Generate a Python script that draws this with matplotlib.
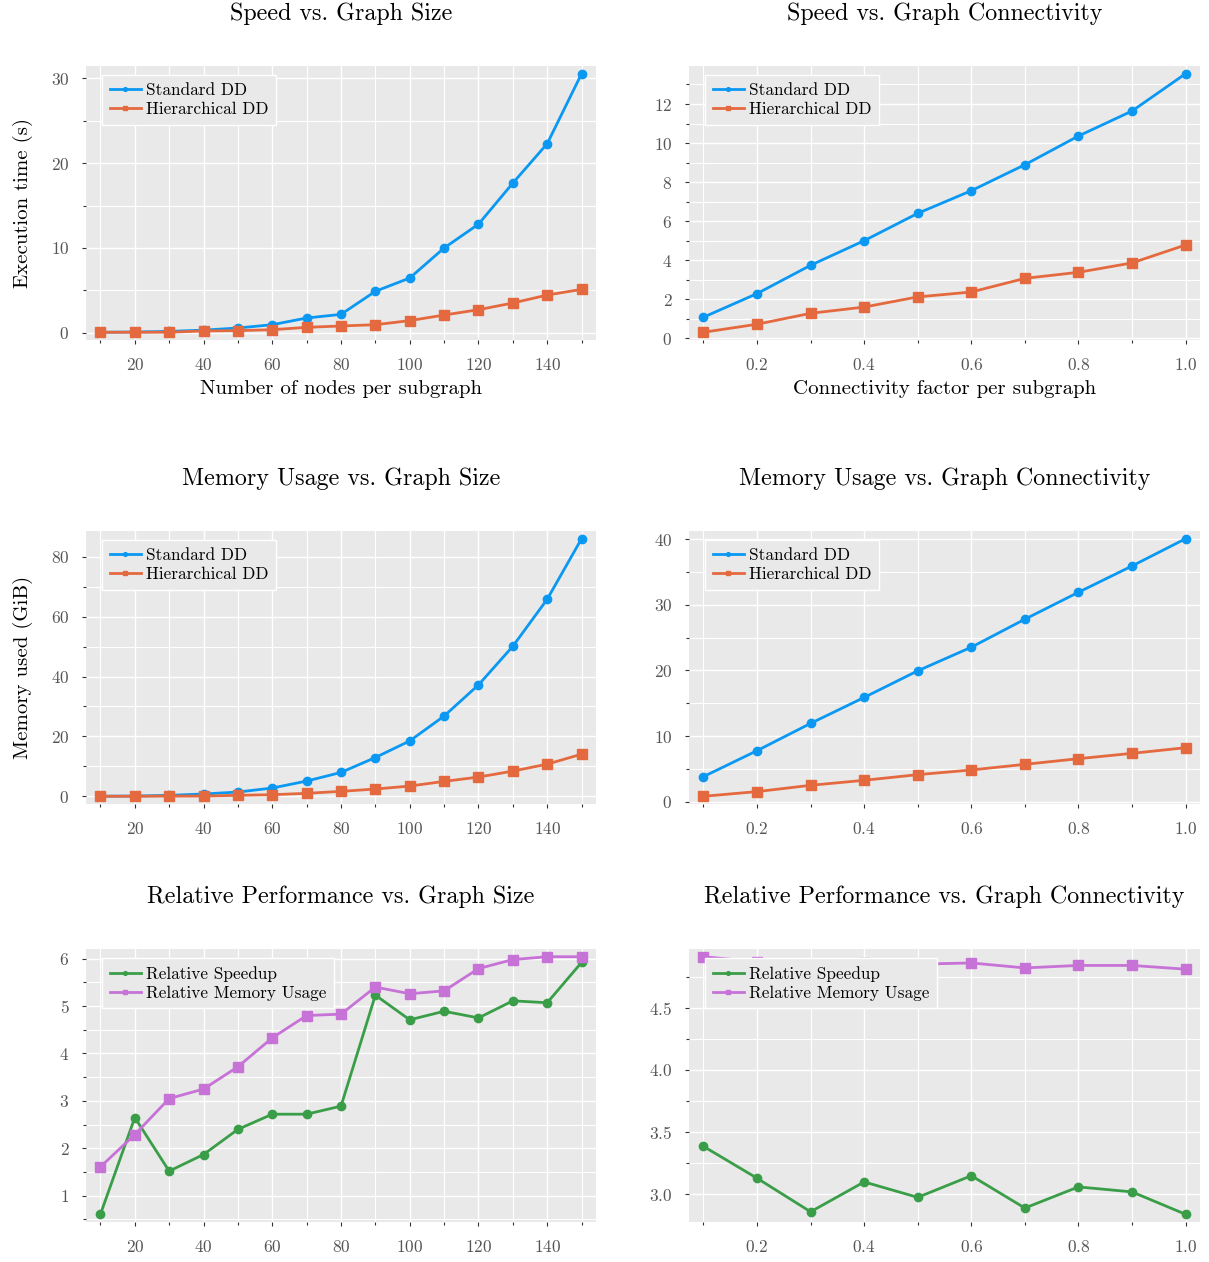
import numpy as np
import matplotlib
matplotlib.use('Agg')
import matplotlib.pyplot as plt
from matplotlib.ticker import AutoMinorLocator, MultipleLocator

# ---- data ----
nodes = [10, 20, 30, 40, 50, 60, 70, 80, 90, 100, 110, 120, 130, 140, 150]
conn = [0.1, 0.2, 0.3, 0.4, 0.5, 0.6, 0.7, 0.8, 0.9, 1.0]

time_std_nodes = [0.05, 0.08, 0.15, 0.3, 0.55, 0.94, 1.73, 2.16, 4.88, 6.45, 9.99, 12.8, 17.65, 22.3, 30.55]
time_hier_nodes = [0.05, 0.05, 0.05, 0.2, 0.24, 0.35, 0.63, 0.79, 0.94, 1.42, 2.08, 2.71, 3.5, 4.44, 5.11]

time_std_conn = [1.08, 2.29, 3.74, 5.0, 6.4, 7.56, 8.89, 10.36, 11.64, 13.55]
time_hier_conn = [0.31, 0.72, 1.28, 1.6, 2.12, 2.37, 3.07, 3.38, 3.86, 4.78]

mem_std_nodes = [0.05, 0.1, 0.33, 0.78, 1.44, 2.77, 5.1, 7.98, 12.96, 18.5, 26.8, 37.2, 50.1, 65.8, 86.0]
mem_hier_nodes = [0.02, 0.03, 0.08, 0.1, 0.33, 0.55, 1.0, 1.66, 2.44, 3.43, 4.99, 6.43, 8.42, 10.75, 14.07]

mem_std_conn = [3.85, 7.8, 11.95, 15.9, 19.95, 23.54, 27.8, 31.9, 35.9, 40.05]
mem_hier_conn = [0.86, 1.57, 2.53, 3.29, 4.15, 4.86, 5.72, 6.58, 7.39, 8.25]

speedup_nodes = [0.61, 2.65, 1.52, 1.87, 2.4, 2.72, 2.72, 2.89, 5.23, 4.71, 4.89, 4.75, 5.11, 5.07, 5.92]
memratio_nodes = [1.61, 2.29, 3.05, 3.25, 3.72, 4.33, 4.8, 4.83, 5.4, 5.26, 5.32, 5.79, 5.98, 6.04, 6.04]

speedup_conn = [3.386, 3.13, 2.86, 3.10, 2.976, 3.15, 2.89, 3.06, 3.02, 2.84]
memratio_conn = [4.91, 4.87, 4.85, 4.86, 4.85, 4.86, 4.82, 4.84, 4.84, 4.81]

# ---- style ----
plt.rcParams['font.family'] = 'serif'
plt.rcParams['font.serif'] = ['cmr10']
plt.rcParams['mathtext.fontset'] = 'cm'
plt.rcParams['axes.formatter.use_mathtext'] = True
plt.rcParams['axes.unicode_minus'] = False

BLUE = '#0a98f2'
ORANGE = '#e5693f'
GREEN = '#3a9e48'
PURPLE = '#c672d6'
BG = '#e9e9e9'

W, H = 1209, 1262
fig = plt.figure(figsize=(W / 100, H / 100), dpi=100)


def make_ax(x0, y0, x1, y1):
    return fig.add_axes([x0 / W, 1 - y1 / H, (x1 - x0) / W, (y1 - y0) / H])


cols = [(86, 596), (689, 1200)]
rows = [(66, 340), (531, 804), (949, 1222)]
axes = [[make_ax(c[0], r[0], c[1], r[1]) for c in cols] for r in rows]


def style(ax):
    ax.set_facecolor(BG)
    for s in ax.spines.values():
        s.set_visible(False)
    ax.xaxis.set_minor_locator(AutoMinorLocator(2))
    ax.yaxis.set_minor_locator(AutoMinorLocator(2))
    ax.grid(True, which='major', color='white', linewidth=1.0)
    ax.grid(True, which='minor', color='white', linewidth=0.8)
    ax.set_axisbelow(True)
    ax.tick_params(which='major', length=3, width=0.8, color='#333333',
                   labelcolor='#555555', labelsize=12.5, pad=9)
    ax.tick_params(which='minor', length=2, width=0.8, color='#333333')
    ax.margins(0.03)


def draw(ax, x, y1, y2, c1, c2, l1, l2, title):
    ax.plot(x, y1, color=c1, marker='o', markersize=6, linewidth=2, label=l1)
    ax.plot(x, y2, color=c2, marker='s', markersize=6.5, linewidth=2, label=l2)
    style(ax)
    ax.set_title(title, fontsize=17.3, pad=33)
    bb = ax.get_position()
    leg = ax.legend(loc='upper left', bbox_to_anchor=(16 / (bb.width * W), 1 - 9 / (bb.height * H)),
                    borderaxespad=0, fontsize=12.4, markerscale=0.45,
                    fancybox=False, framealpha=1,
                    handlelength=1.8, handletextpad=0.3, borderpad=0.45,
                    labelspacing=0.22)
    leg.get_frame().set_facecolor(BG)
    leg.get_frame().set_edgecolor('white')
    leg.get_frame().set_linewidth(1.0)


draw(axes[0][0], nodes, time_std_nodes, time_hier_nodes, BLUE, ORANGE,
     'Standard DD', 'Hierarchical DD', 'Speed vs. Graph Size')
draw(axes[0][1], conn, time_std_conn, time_hier_conn, BLUE, ORANGE,
     'Standard DD', 'Hierarchical DD', 'Speed vs. Graph Connectivity')
draw(axes[1][0], nodes, mem_std_nodes, mem_hier_nodes, BLUE, ORANGE,
     'Standard DD', 'Hierarchical DD', 'Memory Usage vs. Graph Size')
draw(axes[1][1], conn, mem_std_conn, mem_hier_conn, BLUE, ORANGE,
     'Standard DD', 'Hierarchical DD', 'Memory Usage vs. Graph Connectivity')
draw(axes[2][0], nodes, speedup_nodes, memratio_nodes, GREEN, PURPLE,
     'Relative Speedup', 'Relative Memory Usage', 'Relative Performance vs. Graph Size')
draw(axes[2][1], conn, speedup_conn, memratio_conn, GREEN, PURPLE,
     'Relative Speedup', 'Relative Memory Usage', 'Relative Performance vs. Graph Connectivity')

axes[0][0].yaxis.set_major_locator(MultipleLocator(10))
axes[0][0].yaxis.set_minor_locator(MultipleLocator(5))
axes[0][1].yaxis.set_major_locator(MultipleLocator(2))
axes[0][1].yaxis.set_minor_locator(MultipleLocator(1))

axes[0][0].set_xlabel('Number of nodes per subgraph', fontsize=15, labelpad=5)
axes[0][1].set_xlabel('Connectivity factor per subgraph', fontsize=15, labelpad=5)
axes[0][0].set_ylabel('Execution time (s)', fontsize=15, labelpad=13)
axes[1][0].set_ylabel('Memory used (GiB)', fontsize=15, labelpad=13)

fig.savefig('out.png', dpi=100)
